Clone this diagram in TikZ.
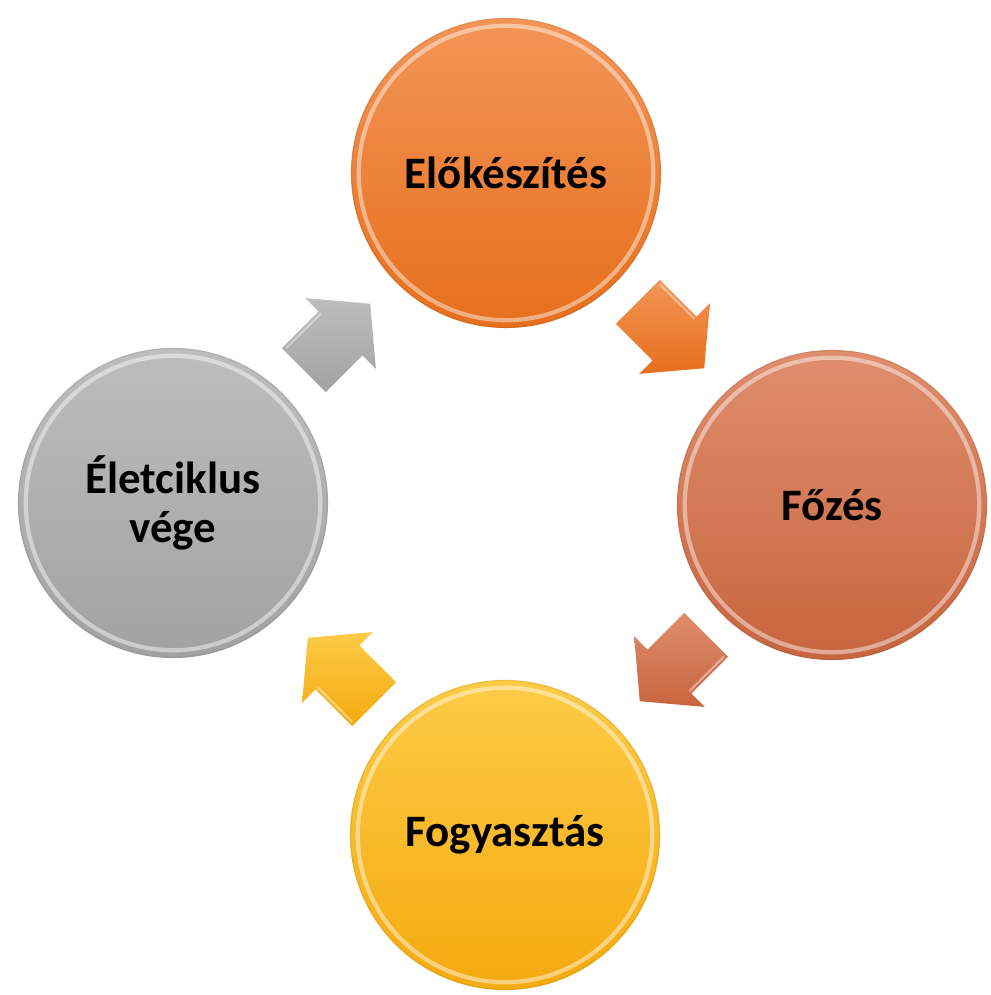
\documentclass[tikz,border=0pt]{standalone}
\usepackage{fontspec}
\setmainfont{Carlito}
\definecolor{prepA}{HTML}{F39558}
\definecolor{prepB}{HTML}{E66F1C}
\definecolor{cookA}{HTML}{DF8E6E}
\definecolor{cookB}{HTML}{C8653F}
\definecolor{eatA}{HTML}{FCCB47}
\definecolor{eatB}{HTML}{F5AA10}
\definecolor{endA}{HTML}{BDBDBD}
\definecolor{endB}{HTML}{A2A2A2}
\begin{document}
\begin{tikzpicture}[x=0.025cm,y=0.025cm,
	phase/.style={circle,minimum size=7.75cm,inner sep=0pt,align=center,
		font=\fontsize{32}{35}\selectfont\bfseries}]
	\useasboundingbox (0,0) rectangle (991,995);
	% the four phases
	\node[phase,top color=prepA,bottom color=prepB] (prep) at (506,822) {Előkészítés};
	\node[phase,top color=cookA,bottom color=cookB] (cook) at (832,490) {Főzés};
	\node[phase,top color=eatA,bottom color=eatB] (eat) at (505,160) {Fogyasztás};
	\node[phase,top color=endA,bottom color=endB] (end) at (173,492) {Életciklus\\vége};
	% glossy rims
	\foreach \n in {prep,cook,eat,end}{
		\draw[white,opacity=0.45,line width=3pt] (\n.center) circle[radius=3.68cm];
		\draw[black,opacity=0.06,line width=1pt] (\n.center) circle[radius=3.86cm];
	}
	% block arrows between phases
	\foreach \nm/\x/\y/\a/\ca/\cb in {endprep/337/658/45/endA/endB,
			prepcook/671/660/-45/prepA/prepB,
			cookeat/673/327/-135/cookA/cookB,
			eatend/341/324/135/eatA/eatB}{
		\coordinate (\nm) at (\x,\y);
		\shade[shift={(\nm)},rotate=\a,top color=\ca,bottom color=\cb]
			(-47,-31) -- (5,-31) -- (5,-50) -- (47,0) -- (5,50) -- (5,31) -- (-47,31) -- cycle;
		\draw[shift={(\nm)},rotate=\a,white,opacity=0.4,line width=1.5pt] (-44,28) -- (5,28);
	}
\end{tikzpicture}
\end{document}
